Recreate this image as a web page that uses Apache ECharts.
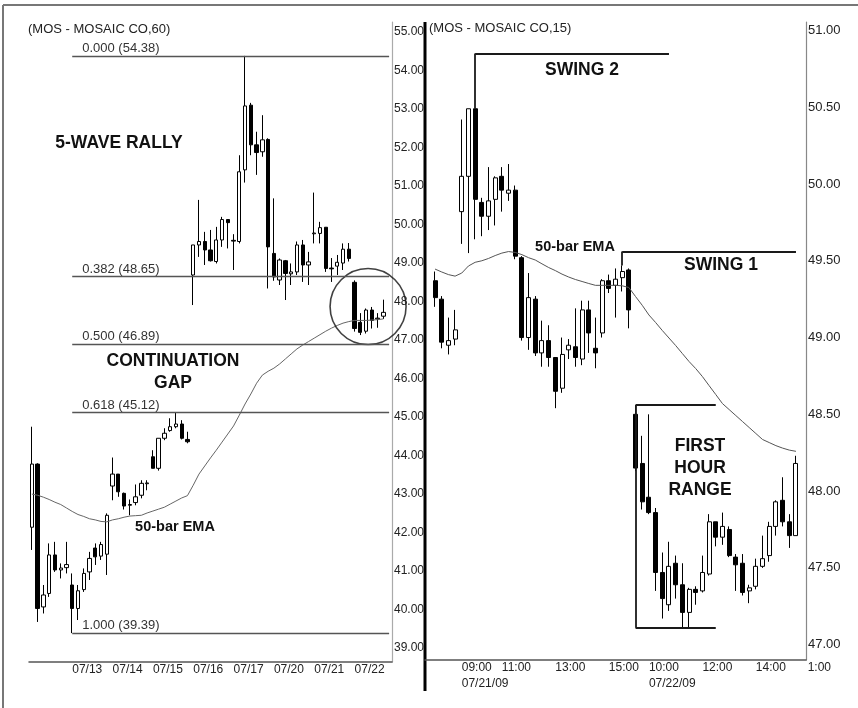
<!DOCTYPE html>
<html>
<head>
<meta charset="utf-8">
<script src="https://cdn.jsdelivr.net/npm/echarts@6/dist/echarts.min.js"></script>
<style>
html, body { margin: 0; padding: 0; background: #fff; }
#chart { width: 858px; height: 708px; }
</style>
</head>
<body>
<div id="chart"></div>
<script>
// ---- MOS 60 min bars (open, high, low, close) ----
var hourDays = ['07/10', '07/13', '07/14', '07/15', '07/16', '07/17', '07/20', '07/21', '07/22'];
var hourTimes = ['09:30', '10:30', '11:30', '12:30', '13:30', '14:30', '15:30'];
var hourBars = [
    [42.14, 44.75, 41.55, 43.78], [43.78, 43.80, 39.68, 40.03], [40.07, 40.64, 39.90, 40.38],
    [40.42, 41.72, 40.33, 41.42], [41.42, 41.76, 40.98, 41.03], [41.03, 41.20, 40.81, 41.08],
    [41.09, 41.76, 40.94, 41.17],
    [40.64, 40.94, 39.39, 40.03], [40.03, 40.64, 39.73, 40.49], [40.52, 41.07, 40.46, 40.94],
    [40.98, 41.50, 40.77, 41.33], [41.60, 41.72, 41.16, 41.37], [41.39, 41.76, 41.29, 41.69],
    [41.44, 42.50, 40.90, 42.45],
    [43.21, 43.95, 42.84, 43.52], [43.52, 43.52, 42.93, 43.06], [43.02, 43.04, 42.60, 42.69],
    [42.71, 42.86, 42.45, 42.73], [42.78, 43.25, 42.71, 42.93], [42.97, 43.36, 42.89, 43.28],
    [43.27, 43.36, 43.10, 43.29],
    [43.97, 44.14, 43.67, 43.67], [43.67, 44.45, 43.61, 44.45], [44.45, 44.71, 44.40, 44.58],
    [44.65, 44.97, 44.62, 44.75], [44.75, 45.12, 44.71, 44.82], [44.82, 44.92, 44.42, 44.45],
    [44.42, 44.62, 44.32, 44.36],
    [48.69, 49.47, 47.91, 49.47], [49.47, 50.64, 49.16, 49.56], [49.56, 49.81, 48.95, 49.34],
    [49.34, 49.86, 49.04, 49.06], [49.04, 49.94, 48.99, 49.60], [49.60, 50.20, 49.42, 50.13],
    [50.13, 50.13, 49.38, 50.05],
    [49.59, 49.75, 48.82, 49.57], [49.56, 51.80, 49.51, 51.37], [51.42, 54.38, 51.09, 53.08],
    [53.10, 53.16, 51.80, 52.07], [52.07, 52.41, 51.29, 51.87], [51.89, 52.84, 51.76, 52.20],
    [52.21, 52.24, 48.34, 49.42],
    [49.25, 50.68, 48.54, 48.64], [48.56, 49.12, 48.43, 49.08], [49.06, 49.08, 48.04, 48.73],
    [48.72, 48.99, 48.43, 48.77], [48.77, 49.56, 48.69, 49.47], [49.47, 49.60, 48.51, 48.95],
    [48.95, 49.29, 48.43, 49.03],
    [49.76, 50.83, 49.51, 49.78], [49.77, 50.07, 49.51, 49.92], [49.93, 49.93, 48.77, 48.86],
    [48.87, 49.13, 48.51, 48.85], [48.92, 49.21, 48.69, 49.02], [49.00, 49.51, 48.82, 49.36],
    [49.36, 49.52, 49.04, 49.12],
    [48.50, 48.55, 47.22, 47.30], [47.46, 47.70, 47.13, 47.20], [47.23, 47.82, 47.17, 47.78],
    [47.78, 47.86, 47.30, 47.51], [47.55, 47.70, 47.32, 47.57], [47.62, 48.05, 47.55, 47.72]
];
var hourEma = [
    43.00, 42.97, 42.92, 42.86, 42.79, 42.73, 42.64,
    42.55, 42.47, 42.42, 42.36, 42.33, 42.29, 42.28,
    42.33, 42.36, 42.40, 42.43, 42.44, 42.45, 42.51,
    42.56, 42.61, 42.66, 42.74, 42.82, 42.90, 42.96,
    43.23, 43.52, 43.73, 43.94, 44.14, 44.35, 44.56,
    44.77, 45.05, 45.34, 45.60, 45.88, 46.09, 46.19,
    46.27, 46.38, 46.51, 46.64, 46.77, 46.87, 46.96,
    47.05, 47.14, 47.23, 47.31, 47.38, 47.44, 47.48,
    47.51, 47.51, 47.51, 47.52, 47.53, 47.55
];
var hourTicks = ['07/13', '07/14', '07/15', '07/16', '07/17', '07/20', '07/21', '07/22'];
var hourPriceTicks = [39, 40, 41, 42, 43, 44, 45, 46, 47, 48, 49, 50, 51, 52, 53, 54, 55];
var hourPriceRange = [38.64, 55.26];

// fibonacci retracement of the rally, drawn from the 07/13 low bar
var fibRatios = ['0.000', '0.382', '0.500', '0.618', '1.000'];
var fibPrices = [54.38, 48.65, 46.89, 45.12, 39.39];
var circleAt = ['07/22 11:30', 47.87];

// ---- MOS 15 min bars (open, high, low, close) ----
var quarterCats = ['07/20 14:45', '07/20 15:00', '07/20 15:15', '07/20 15:30', '07/20 15:45'];
['07/21', '07/22'].forEach(function (d) {
    for (var m = 9 * 60 + 30; m <= 15 * 60 + 45; m += 15) {
        var h = Math.floor(m / 60), mm = m % 60;
        quarterCats.push(d + ' ' + (h < 10 ? '0' : '') + h + ':' + (mm < 10 ? '0' : '') + mm);
    }
});
var quarterBars = [
    [49.37, 49.43, 49.20, 49.26], [49.25, 49.27, 48.93, 48.97], [48.95, 49.13, 48.89, 48.98],
    [48.99, 49.18, 48.95, 49.05],
    [49.82, 50.42, 49.61, 50.05], [50.05, 50.49, 49.55, 50.49], [50.49, 50.49, 49.64, 49.90],
    [49.88, 49.91, 49.66, 49.79], [49.79, 50.11, 49.70, 49.89], [49.90, 50.05, 49.73, 50.04],
    [50.05, 50.11, 49.82, 49.96], [49.94, 50.13, 49.89, 49.96], [49.96, 49.99, 49.51, 49.53],
    [49.52, 49.53, 48.98, 49.00], [49.00, 49.42, 48.92, 49.26], [49.25, 49.27, 48.88, 48.90],
    [48.90, 49.11, 48.81, 48.98], [48.98, 49.08, 48.81, 48.87], [48.87, 48.87, 48.54, 48.65],
    [48.67, 49.00, 48.64, 48.89], [48.92, 48.99, 48.86, 48.95], [48.94, 49.19, 48.81, 48.87],
    [48.86, 49.24, 48.82, 49.18], [49.18, 49.24, 48.90, 49.03], [48.93, 49.13, 48.80, 48.90],
    [49.03, 49.38, 49.00, 49.37], [49.37, 49.41, 49.29, 49.32], [49.34, 49.45, 49.13, 49.38],
    [49.39, 49.47, 49.30, 49.43], [49.44, 49.45, 49.06, 49.18],
    [48.50, 48.56, 48.13, 48.15], [48.18, 48.36, 47.88, 47.93], [47.96, 48.50, 47.85, 47.86],
    [47.86, 47.89, 47.35, 47.47], [47.47, 47.60, 47.17, 47.30], [47.26, 47.67, 47.22, 47.51],
    [47.53, 47.58, 47.30, 47.39], [47.39, 47.53, 47.11, 47.21], [47.21, 47.37, 47.11, 47.36],
    [47.36, 47.38, 47.26, 47.34], [47.35, 47.58, 47.34, 47.47], [47.46, 47.85, 47.45, 47.80],
    [47.80, 47.80, 47.64, 47.70], [47.70, 47.86, 47.65, 47.77], [47.75, 47.77, 47.57, 47.58],
    [47.57, 47.59, 47.35, 47.52], [47.53, 47.59, 47.32, 47.34], [47.35, 47.39, 47.27, 47.37],
    [47.38, 47.56, 47.36, 47.51], [47.51, 47.71, 47.50, 47.56], [47.58, 47.80, 47.54, 47.77],
    [47.77, 47.94, 47.71, 47.93], [47.94, 48.09, 47.77, 47.80], [47.80, 47.85, 47.63, 47.71],
    [47.71, 48.23, 47.71, 48.18]
];
var quarterEma = [
    49.446, 49.427, 49.410, 49.400,
    49.420, 49.466, 49.490, 49.500, 49.515, 49.534, 49.550, 49.560, 49.554, 49.540,
    49.520, 49.505, 49.480, 49.456, 49.436, 49.413, 49.394, 49.378, 49.365, 49.352,
    49.340, 49.340, 49.340, 49.340, 49.337, 49.326,
    49.267, 49.210, 49.147, 49.098, 49.046, 48.997, 48.948, 48.896, 48.844, 48.798,
    48.746, 48.687, 48.629, 48.570, 48.531, 48.492, 48.453, 48.414, 48.375, 48.336,
    48.316, 48.296, 48.280, 48.267, 48.259
];
var quarterTickAt = ['07/21 09:30', '07/21 11:00', '07/21 13:00', '07/21 15:00',
    '07/22 10:00', '07/22 12:00', '07/22 14:00', '07/22 15:45'];
var quarterTickText = ['09:00', '11:00', '13:00', '15:00', '10:00', '12:00', '14:00', '1:00'];
var quarterDateAt = ['07/21 09:30', '07/22 10:00'];
var quarterDateText = ['07/21/09', '07/22/09'];
var quarterPriceTicks = [47, 47.5, 48, 48.5, 49, 49.5, 50, 50.5, 51];
var quarterPriceRange = [46.90, 51.055];

// swing highs and first hour range (bar, price)
var swing2 = { bar: '07/21 10:00', top: 50.49, level: 50.85, end: '07/22 10:45' };
var swing1 = { bar: '07/21 15:30', top: 49.47, level: 49.56, end: '07/22 15:30' };
var firstHour = { bar: '07/22 09:30', high: 48.56, low: 47.11, end: '07/22 12:30' };

// ---------------------------------------------------------------
var hourCats = [];
hourDays.forEach(function (d) {
    hourTimes.forEach(function (t) { hourCats.push(d + ' ' + t); });
});

function toCandles(bars, lead, total) {
    var out = [];
    for (var i = 0; i < total; i++) {
        var b = bars[i - lead];
        out.push(b ? [b[0], b[3], b[2], b[1]] : ['-', '-', '-', '-']);
    }
    return out;
}
function pad(values, lead, total) {
    var out = [];
    for (var i = 0; i < total; i++) {
        var v = values[i - lead];
        out.push(v === undefined ? '-' : v);
    }
    return out;
}

var font = 'Liberation Sans, Arial, Helvetica, sans-serif';
var candleStyle = {
    color: '#fff', color0: '#000',
    borderColor: '#000', borderColor0: '#000', borderColorDoji: '#000',
    borderWidth: 1
};
var annoLine = { color: '#1a1a1a', width: 1.8, type: 'solid' };

var fibLines = fibPrices.map(function (p, i) {
    return [
        { coord: ['07/13 09:30', p], label: { formatter: fibRatios[i] + ' (' + p.toFixed(2) + ')' } },
        { coord: [hourCats[hourCats.length - 1], p] }
    ];
});

var option = {
    animation: false,
    backgroundColor: '#fff',
    textStyle: { fontFamily: font },
    grid: [
        { left: 29, right: 466, top: 22, bottom: 46 },
        { left: 425, right: 52, top: 22, bottom: 48 }
    ],
    xAxis: [
        {
            type: 'category', gridIndex: 0, data: hourCats, boundaryGap: true,
            axisLine: { lineStyle: { color: '#555', width: 1.5 } },
            axisTick: { show: false },
            axisLabel: {
                margin: 2, align: 'left', color: '#222', fontSize: 12, fontFamily: font,
                showMinLabel: true, showMaxLabel: true,
                interval: function (i, v) { return hourTicks.indexOf(v.split(' ')[0]) >= 0 && v.split(' ')[1] === '09:30'; },
                formatter: function (v) { return v.split(' ')[0]; }
            },
            splitLine: { show: false }
        },
        {
            type: 'category', gridIndex: 1, data: quarterCats, boundaryGap: true, position: 'bottom',
            axisLine: { lineStyle: { color: '#555', width: 1.5 } },
            axisTick: { show: false },
            axisLabel: {
                margin: 2, align: 'left', color: '#222', fontSize: 12, fontFamily: font,
                showMinLabel: true, showMaxLabel: true,
                interval: function (i, v) { return quarterTickAt.indexOf(v) >= 0; },
                formatter: function (v) {
                    var k = quarterTickAt.indexOf(v);
                    if (k === quarterTickAt.length - 1) return '{shift|' + quarterTickText[k] + '}';
                    return quarterTickText[k];
                },
                rich: { shift: { padding: [0, 0, 0, 5], fontSize: 12, color: '#222', fontFamily: font } }
            },
            splitLine: { show: false }
        },
        {
            // second label row with the session dates
            type: 'category', gridIndex: 1, data: quarterCats, boundaryGap: true, position: 'bottom',
            axisLine: { show: false }, axisTick: { show: false }, splitLine: { show: false },
            axisLabel: {
                margin: 18, align: 'left', color: '#222', fontSize: 12, fontFamily: font,
                showMinLabel: true, showMaxLabel: true,
                interval: function (i, v) { return quarterDateAt.indexOf(v) >= 0; },
                formatter: function (v) { return quarterDateText[quarterDateAt.indexOf(v)]; }
            }
        }
    ],
    yAxis: [
        {
            type: 'value', gridIndex: 0, position: 'right',
            min: hourPriceRange[0], max: hourPriceRange[1],
            axisLine: { show: true, lineStyle: { color: '#aaa', width: 1.2 } },
            axisTick: { show: false },
            splitLine: { show: false },
            axisLabel: {
                customValues: hourPriceTicks, margin: 2, color: '#222', fontSize: 12, fontFamily: font,
                formatter: function (v) { return v.toFixed(2); }
            }
        },
        {
            type: 'value', gridIndex: 1, position: 'right',
            min: quarterPriceRange[0], max: quarterPriceRange[1],
            axisLine: { show: true, lineStyle: { color: '#888', width: 1.2 } },
            axisTick: { show: false },
            splitLine: { show: false },
            axisLabel: {
                customValues: quarterPriceTicks, margin: 2, color: '#222', fontSize: 13, fontFamily: font,
                formatter: function (v) { return v.toFixed(2); }
            }
        }
    ],
    series: [
        {
            name: 'MOS 60', type: 'candlestick', xAxisIndex: 0, yAxisIndex: 0,
            data: toCandles(hourBars, 0, hourCats.length),
            barWidth: 3.8, itemStyle: candleStyle,
            markLine: {
                silent: true, symbol: ['none', 'none'], animation: false,
                lineStyle: { color: '#555', width: 1.3, type: 'solid' },
                label: {
                    show: true, position: 'insideStartTop', distance: [10, 1],
                    color: '#333', fontSize: 13, fontFamily: font
                },
                data: fibLines
            }
        },
        {
            name: 'EMA 60', type: 'line', xAxisIndex: 0, yAxisIndex: 0,
            data: pad(hourEma, 0, hourCats.length),
            symbol: 'none', lineStyle: { color: '#666', width: 1 }, z: 3
        },
        {
            name: 'circle', type: 'scatter', xAxisIndex: 0, yAxisIndex: 0,
            data: [circleAt], symbol: 'circle', symbolSize: 76, symbolOffset: [2, 0], silent: true,
            itemStyle: { color: 'rgba(0,0,0,0)', borderColor: '#111', borderWidth: 1.6 }, z: 4
        },
        {
            name: 'MOS 15', type: 'candlestick', xAxisIndex: 1, yAxisIndex: 1,
            data: toCandles(quarterBars, 1, quarterCats.length),
            barWidth: 4.5, itemStyle: candleStyle,
            markLine: {
                silent: true, symbol: ['none', 'none'], animation: false,
                lineStyle: annoLine, label: { show: false },
                data: [
                    [{ coord: [swing2.bar, swing2.top] }, { coord: [swing2.bar, swing2.level] }],
                    [{ coord: [swing2.bar, swing2.level] }, { coord: [swing2.end, swing2.level] }],
                    [{ coord: [swing1.bar, swing1.top] }, { coord: [swing1.bar, swing1.level] }],
                    [{ coord: [swing1.bar, swing1.level] }, { coord: [swing1.end, swing1.level] }],
                    [{ coord: [firstHour.bar, firstHour.high] }, { coord: [firstHour.bar, firstHour.low] }],
                    [{ coord: [firstHour.bar, firstHour.high] }, { coord: [firstHour.end, firstHour.high] }],
                    [{ coord: [firstHour.bar, firstHour.low] }, { coord: [firstHour.end, firstHour.low] }]
                ]
            }
        },
        {
            name: 'EMA 15', type: 'line', xAxisIndex: 1, yAxisIndex: 1,
            data: pad(quarterEma, 1, quarterCats.length),
            symbol: 'none', lineStyle: { color: '#555', width: 1 }, z: 3
        }
    ],
    graphic: [
        // frame and panel divider
        { type: 'line', shape: { x1: 3, y1: 5, x2: 858, y2: 5 }, style: { stroke: '#777', lineWidth: 2 } },
        { type: 'line', shape: { x1: 3, y1: 5, x2: 3, y2: 708 }, style: { stroke: '#777', lineWidth: 2 } },
        { type: 'line', shape: { x1: 425, y1: 22, x2: 425, y2: 691 }, style: { stroke: '#000', lineWidth: 3 } },
        { type: 'text', left: 28, top: 23, style: { text: '(MOS - MOSAIC CO,60)', font: '13px ' + font, fill: '#222' } },
        { type: 'text', left: 429, top: 22, style: { text: '(MOS - MOSAIC CO,15)', font: '13px ' + font, fill: '#222' } },
        { type: 'text', x: 119, y: 143, style: { text: '5-WAVE RALLY', font: 'bold 17.5px ' + font, fill: '#111', align: 'center', verticalAlign: 'middle' } },
        { type: 'text', x: 173, y: 372, style: { text: 'CONTINUATION\nGAP', font: 'bold 17.5px ' + font, lineHeight: 21.7, fill: '#111', align: 'center', verticalAlign: 'middle' } },
        { type: 'text', x: 175, y: 527, style: { text: '50-bar EMA', font: 'bold 14.5px ' + font, fill: '#111', align: 'center', verticalAlign: 'middle' } },
        { type: 'text', x: 582, y: 70, style: { text: 'SWING 2', font: 'bold 17.5px ' + font, fill: '#111', align: 'center', verticalAlign: 'middle' } },
        { type: 'text', x: 575, y: 247, style: { text: '50-bar EMA', font: 'bold 14.5px ' + font, fill: '#111', align: 'center', verticalAlign: 'middle' } },
        { type: 'text', x: 721, y: 265, style: { text: 'SWING 1', font: 'bold 17.5px ' + font, fill: '#111', align: 'center', verticalAlign: 'middle' } },
        { type: 'text', x: 700, y: 468, style: { text: 'FIRST\nHOUR\nRANGE', font: 'bold 17.5px ' + font, lineHeight: 21.7, fill: '#111', align: 'center', verticalAlign: 'middle' } }
    ]
};

var chart = echarts.init(document.getElementById('chart'));
chart.setOption(option);
</script>
</body>
</html>
